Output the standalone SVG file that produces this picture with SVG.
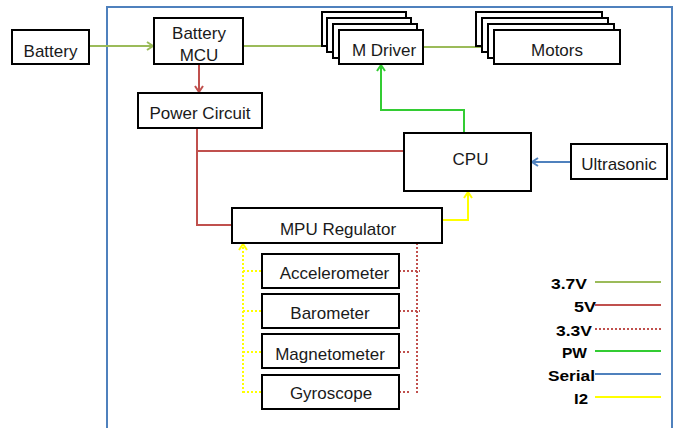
<svg xmlns="http://www.w3.org/2000/svg" width="678" height="428" viewBox="0 0 678 428">
<style>
.box{fill:#fff;stroke:#000;stroke-width:2}
.t{font-family:"Liberation Sans",Arial,sans-serif;font-size:17px;fill:#1a1a1a;text-anchor:middle}
.lg{font-family:"Liberation Sans",Arial,sans-serif;font-size:14px;font-weight:bold;fill:#000}
.c{fill:none;stroke-width:2}
.g37{stroke:#9BBB59}
.r5{stroke:#C0504D}
.r33{stroke:#C0504D;stroke-dasharray:2 2}
.pw{stroke:#33CC33}
.ser{stroke:#4F81BD}
.i2{stroke:#FFFF00}
.i2d{stroke:#FFFF00;stroke-dasharray:2 2}
</style>
<defs>
<marker id="aG" markerWidth="10" markerHeight="10" refX="8" refY="5" orient="auto" markerUnits="userSpaceOnUse"><path d="M2,1 L8,5 L2,9" fill="none" stroke="#9BBB59" stroke-width="2"/></marker>
<marker id="aR" markerWidth="10" markerHeight="10" refX="8" refY="5" orient="auto" markerUnits="userSpaceOnUse"><path d="M2,1 L8,5 L2,9" fill="none" stroke="#C0504D" stroke-width="2"/></marker>
<marker id="aP" markerWidth="10" markerHeight="10" refX="8" refY="5" orient="auto" markerUnits="userSpaceOnUse"><path d="M2,1 L8,5 L2,9" fill="none" stroke="#33CC33" stroke-width="2"/></marker>
<marker id="aB" markerWidth="10" markerHeight="10" refX="8" refY="5" orient="auto" markerUnits="userSpaceOnUse"><path d="M2,1 L8,5 L2,9" fill="none" stroke="#4F81BD" stroke-width="2"/></marker>
<marker id="aY" markerWidth="10" markerHeight="10" refX="8" refY="5" orient="auto" markerUnits="userSpaceOnUse"><path d="M2,1 L8,5 L2,9" fill="none" stroke="#FFFF00" stroke-width="2"/></marker>
</defs>
<rect width="678" height="428" fill="#fff"/>
<rect id="frame" x="107" y="7" width="565" height="440" fill="none" stroke="#4F81BD" stroke-width="2"/>

<g id="connectors">
<path class="c g37" d="M89,46 L153,46" marker-end="url(#aG)"/>
<path class="c g37" d="M243,46 L338,46" marker-end="url(#aG)"/>
<path class="c g37" d="M423,47 L493,47" marker-end="url(#aG)"/>
<path class="c r5" d="M199,64 L199,92" marker-end="url(#aR)"/>
<path class="c r5" d="M197,128 L197,225 L232,225"/>
<path class="c r5" d="M197,151 L404,151"/>
<path class="c pw" d="M464,133 L464,110 L381,110 L381,65" marker-end="url(#aP)"/>
<path class="c ser" d="M571,162 L532,162" marker-end="url(#aB)"/>
<path class="c i2" d="M442,220 L468,220 L468,192" marker-end="url(#aY)"/>
<path class="c i2d" d="M243,393 L243,244" marker-end="url(#aY)"/>
<path class="c i2d" d="M243,271 L262,271 M243,311 L262,311 M243,352 L262,352 M243,392 L262,392"/>
<path class="c r33" d="M417,243 L417,393"/>
<path class="c r33" d="M399,271 L420,271 M399,311 L420,311 M399,352 L409,352 M399,392 L409,392"/>
</g>

<g id="battery"><rect class="box" x="12" y="30" width="77" height="34"/><text class="t" x="50.5" y="57">Battery</text></g>
<g id="battery-mcu"><rect class="box" x="154" y="18" width="89" height="46"/><text class="t" x="199" y="39">Battery</text><text class="t" x="199" y="61">MCU</text></g>
<g id="power-circuit"><rect class="box" x="138" y="93" width="124" height="35"/><text class="t" x="200" y="119">Power Circuit</text></g>
<g id="m-driver">
<rect class="box" x="322" y="12" width="84" height="34"/>
<rect class="box" x="327" y="18" width="84" height="34"/>
<rect class="box" x="333" y="24" width="84" height="34"/>
<rect class="box" x="339" y="30" width="84" height="34"/>
<text class="t" x="384" y="56">M Driver</text></g>
<g id="motors">
<rect class="box" x="476" y="12" width="126" height="34"/>
<rect class="box" x="482" y="18" width="126" height="34"/>
<rect class="box" x="488" y="24" width="126" height="34"/>
<rect class="box" x="494" y="30" width="126" height="34"/>
<text class="t" x="557" y="56">Motors</text></g>
<g id="cpu"><rect class="box" x="404" y="133" width="127" height="58"/><text class="t" x="470.5" y="165">CPU</text></g>
<g id="ultrasonic"><rect class="box" x="571" y="144" width="96" height="35"/><text class="t" x="619" y="170">Ultrasonic</text></g>
<g id="mpu-regulator"><rect class="box" x="232" y="208" width="210" height="35"/><text class="t" x="338" y="235">MPU Regulator</text></g>
<g id="accelerometer"><rect class="box" x="262" y="254" width="137" height="34"/><text class="t" x="334.5" y="279">Accelerometer</text></g>
<g id="barometer"><rect class="box" x="262" y="294" width="137" height="34"/><text class="t" x="330" y="319">Barometer</text></g>
<g id="magnetometer"><rect class="box" x="262" y="334" width="137" height="34"/><text class="t" x="330" y="360">Magnetometer</text></g>
<g id="gyroscope"><rect class="box" x="262" y="375" width="137" height="34"/><text class="t" x="331" y="399">Gyroscope</text></g>

<g id="legend">
<text class="lg" x="551" y="289" textLength="36" lengthAdjust="spacingAndGlyphs">3.7V</text><path class="c g37" d="M595,282 L661,282"/>
<text class="lg" x="574" y="312" textLength="22" lengthAdjust="spacingAndGlyphs">5V</text><path class="c r5" d="M595,305 L661,305"/>
<text class="lg" x="556" y="336" textLength="36" lengthAdjust="spacingAndGlyphs">3.3V</text><path class="c r33" d="M595,329 L661,329"/>
<text class="lg" x="562" y="358" textLength="25" lengthAdjust="spacingAndGlyphs">PW</text><path class="c pw" d="M595,351 L661,351"/>
<text class="lg" x="548" y="381" textLength="47" lengthAdjust="spacingAndGlyphs">Serial</text><path class="c ser" d="M595,374 L661,374"/>
<text class="lg" x="574" y="404" textLength="14" lengthAdjust="spacingAndGlyphs">I2</text><path class="c i2" d="M595,397 L661,397"/>
</g>
</svg>
